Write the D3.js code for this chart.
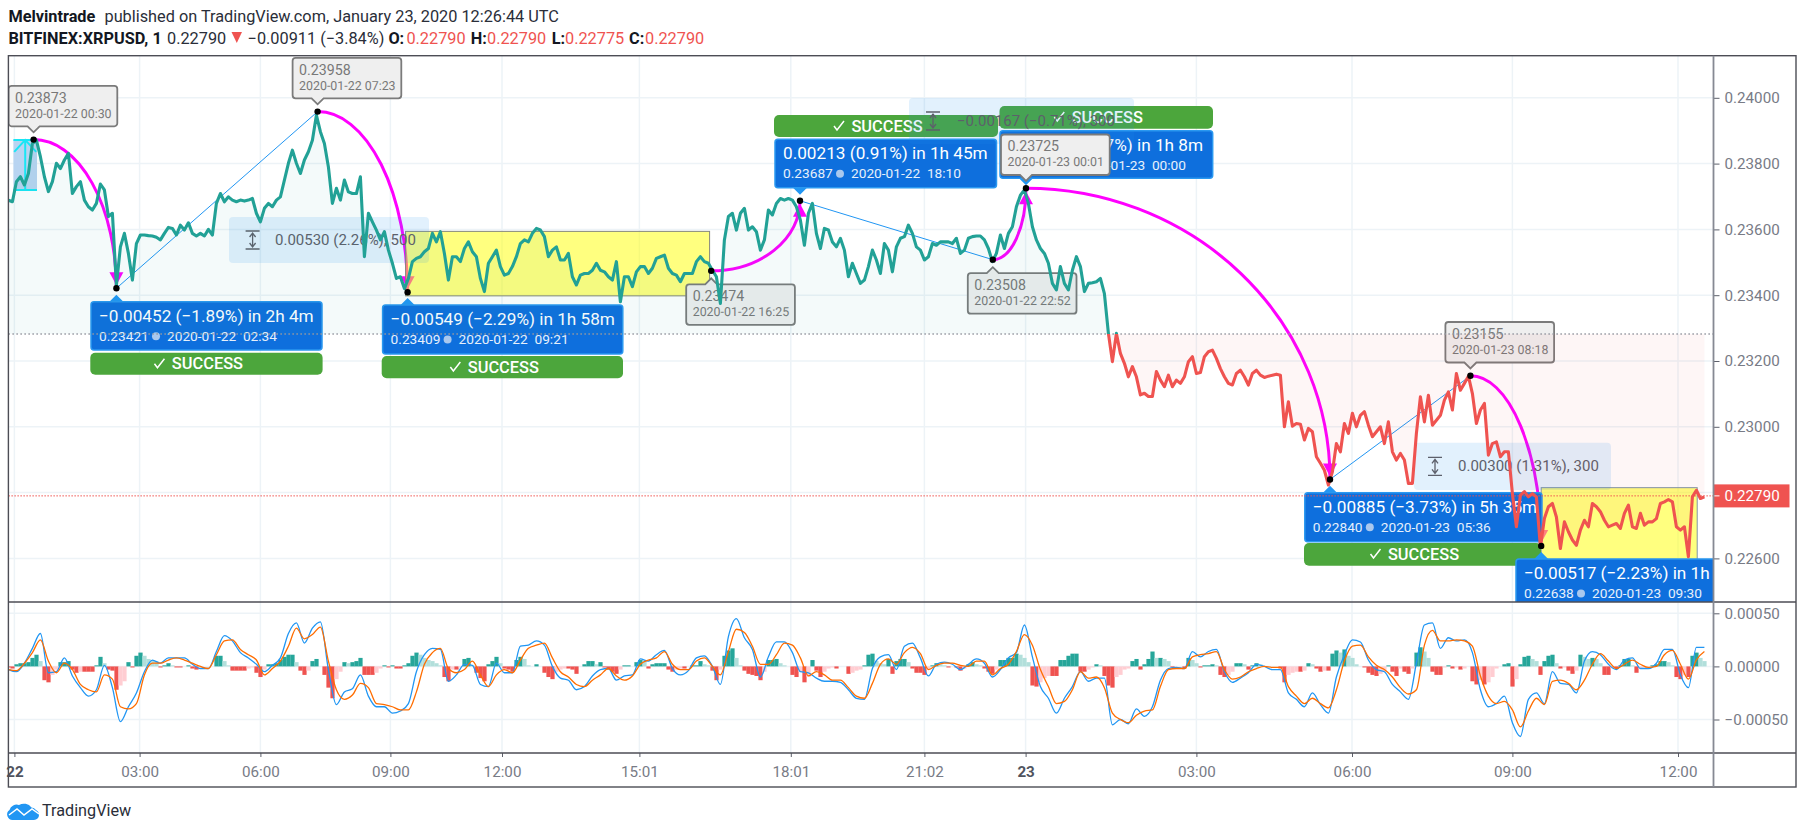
<!DOCTYPE html>
<html>
<head>
<meta charset="utf-8">
<style>
  html, body { margin: 0; padding: 0; background: #fff; }
  svg { display: block; }
  text { font-family: Roboto, sans-serif; }
</style>
<script src="https://cdn.jsdelivr.net/npm/d3@7"></script>
</head>
<body>
<div id="chart"></div>
<script>
// close price per bar, in 1e-5 USD
var closes = [
23689,23684,23745,23760,23735,23770,23861,23871,23821,23760,23715,23745,23801,23785,23811,23831,23709,23730,23745,23689,
23669,23659,23679,23738,23720,23639,23649,23430,23547,23588,23527,23446,23557,23583,23583,23581,23580,23576,23568,23588,
23606,23603,23583,23613,23598,23620,23588,23580,23588,23580,23600,23583,23679,23709,23684,23699,23689,23684,23689,23686,
23689,23694,23649,23623,23664,23679,23669,23689,23699,23750,23801,23841,23801,23770,23811,23836,23871,23947,23897,23861,
23790,23679,23725,23689,23750,23714,23709,23709,23760,23517,23649,23623,23598,23568,23593,23537,23497,23451,23456,23420,
23451,23502,23512,23517,23532,23542,23588,23562,23593,23527,23446,23517,23517,23502,23542,23562,23532,23517,23451,23411,
23497,23517,23537,23487,23461,23466,23487,23517,23557,23568,23562,23588,23603,23598,23578,23517,23537,23547,23507,23507,
23527,23456,23431,23461,23466,23466,23476,23497,23476,23471,23456,23446,23502,23380,23456,23456,23426,23471,23487,23487,
23466,23482,23512,23517,23522,23482,23466,23461,23441,23466,23466,23466,23502,23517,23502,23497,23476,23456,23375,23568,
23639,23649,23598,23649,23664,23598,23608,23593,23537,23568,23659,23644,23679,23694,23689,23694,23689,23669,23628,23552,
23649,23679,23588,23542,23603,23598,23562,23547,23573,23537,23456,23497,23466,23436,23446,23487,23537,23507,23466,23557,
23537,23471,23547,23573,23578,23613,23588,23547,23537,23507,23517,23557,23552,23562,23562,23562,23557,23573,23527,23537,
23573,23578,23580,23580,23568,23542,23502,23527,23583,23542,23588,23608,23669,23704,23720,23679,23608,23568,23542,23527,
23497,23436,23416,23487,23436,23416,23476,23517,23487,23411,23436,23438,23441,23451,23405,23284,23198,23284,23223,23193,
23152,23183,23152,23097,23102,23092,23092,23168,23142,23122,23157,23122,23142,23132,23152,23198,23213,23162,23165,23213,
23228,23233,23208,23177,23152,23132,23127,23162,23172,23152,23127,23162,23172,23157,23150,23154,23157,23160,23157,23000,
23076,23002,23010,23008,22960,22995,22985,22909,22889,22868,22823,22863,22949,22924,23010,22980,23041,23000,23035,23046,
23005,22970,22985,23000,22949,23015,22924,22899,22919,22899,22828,22828,22980,23091,23015,23096,23005,23020,23035,23081,
23106,23051,23162,23111,23132,23154,23101,23010,23051,23071,22914,22949,22954,22909,22924,22924,22797,22696,22792,22803,
22787,22797,22787,22635,22721,22757,22767,22726,22630,22711,22681,22656,22640,22686,22716,22696,22767,22757,22742,22716,
22696,22701,22706,22691,22737,22762,22696,22691,22737,22701,22711,22711,22721,22767,22772,22779,22772,22696,22686,22696,
22605,22787,22807,22782,22787
];
// MACD histogram per bar, in 1e-5
var macdHist = [
-1,-2,2,3,3,4,8,11,5,-13,-15,-8,-3,4,4,5,-3,-6,-5,-5,
-5,-5,1,9,3,-3,-4,-22,-18,-14,4,-1,10,13,10,7,6,5,-1,1,
3,1,-1,-1,0,1,-2,-3,-1,0,0,0,10,10,5,1,-4,-4,-4,-4,
-2,-1,-6,-10,-3,2,2,3,6,9,11,11,4,-4,-8,-4,5,7,0,-8,
-20,-30,-12,-5,4,3,4,5,8,-8,-8,-8,-6,-2,1,-1,1,-2,-2,1,
3,10,13,11,8,6,5,3,1,-10,-14,-3,-3,-1,7,8,1,-6,-11,-14,
2,5,9,3,-2,-3,-5,6,9,7,1,0,2,0,-6,-10,-12,-5,-3,-2,
-2,-3,-7,0,2,5,5,2,4,-1,-3,-5,-7,-3,1,1,0,4,6,5,
-2,2,3,3,3,-3,-5,-3,-2,-2,0,1,1,5,2,1,-4,-13,-3,10,
15,17,8,1,-4,-7,-8,-9,-13,-5,6,6,7,3,1,0,-8,-10,-5,-15,
-10,6,-4,-10,-5,-2,-1,-2,0,0,-7,-6,-4,-3,1,11,12,5,3,2,
7,-7,5,7,7,4,-2,-6,-6,-8,-3,1,3,2,1,-1,0,-1,-4,-2,
2,4,2,1,-2,-5,-7,-3,6,6,8,8,12,11,8,4,-18,-19,-15,-11,
-9,-9,-9,6,6,10,12,12,-5,-5,-3,-1,2,1,-9,-18,-20,-10,-8,-3,
-2,5,7,-3,2,7,14,8,8,7,5,-1,0,0,-2,8,6,3,-1,1,
1,2,1,-8,-10,-8,-5,3,3,2,-3,1,3,2,0,0,0,0,-2,-15,
-8,-6,-5,-5,-4,3,2,-2,-5,-4,-4,12,15,13,16,10,8,2,0,-1,
-6,-8,-9,-7,-5,1,-5,-9,-2,-5,-7,-2,13,18,14,8,-5,-8,-8,-1,
1,-2,-1,-3,-2,0,-14,-17,-13,-17,-15,-10,-2,0,2,3,-19,-12,2,9,
10,7,5,-8,5,10,11,3,-2,-1,-4,-7,-4,11,9,7,8,7,3,-8,
-8,-2,-2,1,7,7,1,-6,-2,-1,0,1,2,5,5,4,1,-10,-12,-8,
-10,10,13,8,5
];
// MACD and signal lines, one reading every 2 bars, in 1e-5
var macdLine = [
-3,-5,3,17,31,-6,-5,8,-9,-20,-28,-22,1,-20,-52,-38,-25,-5,6,3,
8,8,8,2,-2,-2,14,29,24,13,8,2,-5,1,8,31,41,22,36,42,
-3,-36,-24,-21,-8,-28,-38,-38,-44,-42,-35,-5,11,17,16,-14,-8,2,1,-17,
-19,3,-6,-6,19,20,24,20,0,-11,-13,-22,-19,-9,-3,-2,-13,-9,-8,7,
5,11,15,-2,-8,-4,8,10,0,-17,28,45,27,16,-10,9,23,23,13,-5,
-6,-11,-14,-14,-15,-22,-30,-31,-2,9,11,-3,19,22,8,-9,2,4,2,-3,
2,7,3,-10,-3,8,13,39,9,-19,-30,-44,-30,-19,-5,-14,-11,-11,-55,-50,
-54,-40,-47,-38,-13,-2,-1,-2,14,9,14,16,-5,-15,-11,-6,2,0,-3,-3,
-25,-31,-38,-25,-36,-44,-10,11,25,23,6,-3,-5,-17,-24,-31,3,39,41,17,
27,24,25,13,-22,-38,-35,-28,-53,-66,-31,-25,-35,-5,-16,-17,-25,5,14,11,
2,-3,6,8,-2,-2,3,16,16,-8,-20,18,18
];
var signalLine = [
-3,-4,3,13,25,5,-6,3,-3,-17,-22,-24,-8,-12,-38,-40,-35,-8,3,3,
6,8,6,3,0,-2,11,24,25,16,11,6,-8,-2,5,19,36,26,30,37,
5,-22,-31,-27,-16,-20,-35,-36,-38,-41,-41,-24,2,13,17,-2,-6,-3,5,-8,
-19,-8,-3,-6,6,17,20,22,8,-5,-10,-17,-19,-13,-8,-2,-9,-13,-9,2,
6,8,14,2,-3,-3,5,8,0,-8,14,35,32,19,2,2,11,22,20,8,
-9,-5,-8,-13,-13,-20,-28,-30,-16,2,7,2,13,18,12,-3,1,3,3,1,
0,5,5,-8,-2,2,14,30,20,-3,-19,-35,-33,-22,-5,-11,-10,-20,-44,-50,
-53,-46,-42,-41,-19,-3,-2,-2,9,11,12,14,-3,-12,-10,-5,-2,0,-1,-1,
-19,-28,-35,-30,-35,-39,-22,5,19,20,9,1,-3,-10,-20,-26,-22,20,34,24,
24,25,24,19,-9,-28,-35,-33,-41,-57,-42,-30,-36,-14,-13,-16,-22,-13,2,12,
5,-2,2,6,2,-1,0,11,15,2,-12,6,14
];

var priceTicks = [0.240, 0.238, 0.236, 0.234, 0.232, 0.230, 0.228, 0.226];
var macdTicks = [0.0005, 0, -0.0005];
var timeBars = [1.5, 32.8, 63, 95.5, 123.4, 157.75, 195.6, 229, 254.3, 297, 335.9, 376, 417.4];
var timeLabels = ["22", "03:00", "06:00", "09:00", "12:00", "15:01", "18:01", "21:02", "23", "03:00", "06:00", "09:00", "12:00"];
var baseValue = 0.23282;
var lastPrice = 0.22790;

// swing points of the drawings, a to k in time order
var swingBars = [6.3, 27, 77.3, 99.8, 175.7, 197.9, 246.1, 254.4, 330.4, 365.5, 383.2];
var swingPrices = [0.23873, 0.23421, 0.23958, 0.23409, 0.23474, 0.23687, 0.23508, 0.23725, 0.22840, 0.23155, 0.22638];
var swingDates = ["2020-01-22 00:30", "2020-01-22 02:34", "2020-01-22 07:23", "2020-01-22 09:21", "2020-01-22 16:25", "2020-01-22 18:10",
                  "2020-01-22 22:52", "2020-01-23 00:01", "2020-01-23 05:36", "2020-01-23 08:18", "2020-01-23 09:30"];
var arcs = [[0, 1], [2, 3], [4, 5], [6, 7], [7, 8], [9, 10]];
var links = [[1, 2], [5, 6], [8, 9]];

var calloutSwings = [0, 2, 4, 6, 7, 9];
var calloutBelow = [4, 6];
var targetSwings = [1, 3, 5, 7, 8, 10];
var targetTitles = ["\u22120.00452 (\u22121.89%) in 2h 4m", "\u22120.00549 (\u22122.29%) in 1h 58m", "0.00213 (0.91%) in 1h 45m",
                    "0.00217 (0.97%) in 1h 8m", "\u22120.00885 (\u22123.73%) in 5h 35m", "\u22120.00517 (\u22122.23%) in 1h 12m"];
var targetPrices = ["0.23421", "0.23409", "0.23687", "0.23725", "0.22840", "0.22638"];
var targetStamps = ["2020-01-22\u00a0\u00a002:34", "2020-01-22\u00a0\u00a009:21", "2020-01-22\u00a0\u00a018:10",
                    "2020-01-23\u00a0\u00a000:00", "2020-01-23\u00a0\u00a005:36", "2020-01-23\u00a0\u00a009:30"];

var measureTexts = ["0.00530 (2.26%), 500", "\u22120.00167 (\u22120.71%), 300", "0.00300 (1.31%), 300"];

// page layout, not data
var pane = {left: 8.4, right: 1713.5, outer: 1796, top: 55.7, split: 602, bottom: 753, foot: 787};
var targetBoxes = [
  {l: 91, r: 322, t: 301.7, b: 350, gl: 90.3, gr: 322.6, gt: 352.7, gb: 374.7},
  {l: 382.6, r: 622.8, t: 305, b: 354, gl: 381.7, gr: 623, gt: 356, gb: 378.3},
  {l: 775, r: 996.5, t: 139.3, b: 187.7, gl: 774, gr: 998, gt: 115, gb: 137},
  {l: 1000, r: 1212.7, t: 130.7, b: 178.3, gl: 999.5, gr: 1213, gt: 106, gb: 128.7},
  {l: 1304.8, r: 1542, t: 492.7, b: 541.7, gl: 1304, gr: 1541, gt: 543, gb: 565.7},
  {l: 1516, r: 1760, t: 559, b: 610}
];
var measureBoxes = [
  {l: 229, r: 429, t: 217, b: 263, icon: 252.6, text: 275},
  {l: 909, r: 1134, t: 98, b: 144, icon: 933, text: 957},
  {l: 1414, r: 1611, t: 442.7, b: 490, icon: 1435, text: 1458}
];

var width = 1804, height = 834;
var axisGray = "#787b86", ink = "#131722", red = "#ef5350", teal = "#22a196";

var svg = d3.select("#chart").append("svg").attr("width", width).attr("height", height);
var defs = svg.append("defs");

var x = d3.scaleLinear().domain([0, 424]).range([8.4, 1704.4]);
var y = d3.scaleLinear().domain([0.240, 0.226]).range([97.8, 558.4]);
var macdY = d3.scaleLinear().domain([0.0005, -0.0005]).range([613.3, 719.5]);

function clipRect(id, x0, y0, x1, y1) {
  defs.append("clipPath").attr("id", id).append("rect")
    .attr("x", x0).attr("y", y0).attr("width", x1 - x0).attr("height", y1 - y0);
}
clipRect("paneClip", pane.left, pane.top, pane.right, pane.split);
clipRect("aboveBase", pane.left, pane.top, pane.right, y(baseValue));
clipRect("belowBase", pane.left, y(baseValue), pane.right, pane.split);
clipRect("macdClip", pane.left, pane.split, pane.right, pane.bottom);

// grid
var grid = svg.append("g").attr("stroke", "#edf3f7").attr("stroke-width", 1.5);
grid.selectAll(".v").data(timeBars).enter().append("line")
  .attr("x1", function(d){ return x(d); }).attr("x2", function(d){ return x(d); })
  .attr("y1", pane.top).attr("y2", pane.bottom);
grid.selectAll(".h").data(priceTicks).enter().append("line")
  .attr("x1", pane.left).attr("x2", pane.right)
  .attr("y1", function(d){ return y(d); }).attr("y2", function(d){ return y(d); });
grid.selectAll(".m").data(macdTicks).enter().append("line")
  .attr("x1", pane.left).attr("x2", pane.right)
  .attr("y1", function(d){ return macdY(d); }).attr("y2", function(d){ return macdY(d); });

// drawings sit under the price line
var draw = svg.append("g").attr("clip-path", "url(#paneClip)");

// cyan long position box at the start
draw.append("rect").attr("x", x(1.25)).attr("width", x(7.15) - x(1.25))
  .attr("y", y(0.23872)).attr("height", y(0.23720) - y(0.23872)).attr("fill", "#b8d4f1");
draw.selectAll(".cy").data([0.23872, 0.23720]).enter().append("line")
  .attr("x1", x(1.25)).attr("x2", x(7.15))
  .attr("y1", function(d){ return y(d); }).attr("y2", function(d){ return y(d); })
  .attr("stroke", "#19e6f5").attr("stroke-width", 2);
draw.append("path")
  .attr("d", "M" + x(4.2) + "," + y(0.23720) + "V" + y(0.23872) + "M" + (x(4.2) - 11) + "," + (y(0.23872) + 12) + "L" + x(4.2) + "," + y(0.23872) + "L" + (x(4.2) + 11) + "," + (y(0.23872) + 12))
  .attr("fill", "none").attr("stroke", "#19e6f5").attr("stroke-width", 2);

// thin trend lines
draw.selectAll(".link").data(links).enter().append("line")
  .attr("x1", function(d){ return x(swingBars[d[0]]); }).attr("y1", function(d){ return y(swingPrices[d[0]]); })
  .attr("x2", function(d){ return x(swingBars[d[1]]); }).attr("y2", function(d){ return y(swingPrices[d[1]]); })
  .attr("stroke", "#2196f3").attr("stroke-width", 1);

// magenta arcs, a quarter ellipse from swing to swing
draw.selectAll(".arc").data(arcs).enter().append("path")
  .attr("d", function(d){
    var x0 = x(swingBars[d[0]]), y0 = y(swingPrices[d[0]]), x1 = x(swingBars[d[1]]), y1 = y(swingPrices[d[1]]);
    return "M" + x0 + "," + y0 + "A" + (x1 - x0) + "," + Math.abs(y1 - y0) + " 0 0 " + (y1 > y0 ? 1 : 0) + " " + x1 + "," + y1;
  })
  .attr("fill", "none").attr("stroke", "#ff00ff").attr("stroke-width", 3);
draw.selectAll(".head").data(arcs).enter().append("path")
  .attr("d", function(d){
    var x1 = x(swingBars[d[1]]), y1 = y(swingPrices[d[1]]), up = swingPrices[d[1]] > swingPrices[d[0]] ? 1 : -1;
    return "M" + x1 + "," + (y1 + up * 3) + "l-7," + (up * 13) + "h14z";
  })
  .attr("fill", "#ff00ff");

// yellow boxes go over the arc ends and tint them
function yellowBox(b0, b1, p0, p1, edge) {
  draw.append("rect").attr("x", x(b0)).attr("width", x(b1) - x(b0))
    .attr("y", y(p0)).attr("height", y(p1) - y(p0))
    .attr("fill", "#ffff00").attr("fill-opacity", 0.5).attr("stroke", edge).attr("stroke-width", 1);
}
yellowBox(99.3, 175.3, 0.23594, 0.23398, "#85877c");
yellowBox(383.2, 422.2, 0.22815, 0.22597, "#7f95a8");

// target labels: blue price box and the green SUCCESS bar
var targets = draw.selectAll(".target").data(targetSwings).enter().append("g");
targets.append("path")
  .attr("d", function(d, i){
    var b = targetBoxes[i], ax = x(swingBars[d]), ay = y(swingPrices[d]);
    var edge = ay < b.t ? b.t : b.b, dir = ay < b.t ? -1 : 1;
    return "M" + (ax - 7) + "," + edge + "L" + ax + "," + (edge + dir * 7) + "L" + (ax + 7) + "," + edge + "z";
  })
  .attr("fill", "#2196f3");
targets.append("rect")
  .attr("x", function(d, i){ return targetBoxes[i].l; }).attr("y", function(d, i){ return targetBoxes[i].t; })
  .attr("width", function(d, i){ return targetBoxes[i].r - targetBoxes[i].l; })
  .attr("height", function(d, i){ return targetBoxes[i].b - targetBoxes[i].t; })
  .attr("rx", 3).attr("fill", "#0e6fdd").attr("stroke", "#2a98f0").attr("stroke-width", 1.5);
targets.append("text")
  .attr("x", function(d, i){ return targetBoxes[i].l + 8; }).attr("y", function(d, i){ return targetBoxes[i].t + 20; })
  .attr("fill", "#fff").attr("font-size", 17.2)
  .text(function(d, i){ return targetTitles[i]; });
targets.append("text")
  .attr("x", function(d, i){ return targetBoxes[i].l + 8; }).attr("y", function(d, i){ return targetBoxes[i].t + 39; })
  .attr("fill", "#e6f0fb").attr("font-size", 13.7)
  .text(function(d, i){ return targetPrices[i]; });
targets.append("circle")
  .attr("cx", function(d, i){ return targetBoxes[i].l + 65; }).attr("cy", function(d, i){ return targetBoxes[i].t + 34.5; })
  .attr("r", 4).attr("fill", "#a9c8ee");
targets.append("text")
  .attr("x", function(d, i){ return targetBoxes[i].l + 76; }).attr("y", function(d, i){ return targetBoxes[i].t + 39; })
  .attr("fill", "#e6f0fb").attr("font-size", 13.7)
  .text(function(d, i){ return targetStamps[i]; });

var wins = targets.filter(function(d, i){ return targetBoxes[i].gl !== undefined; });
wins.append("rect")
  .attr("x", function(d){ return targetBoxes[targetSwings.indexOf(d)].gl; })
  .attr("y", function(d){ return targetBoxes[targetSwings.indexOf(d)].gt; })
  .attr("width", function(d){ var b = targetBoxes[targetSwings.indexOf(d)]; return b.gr - b.gl; })
  .attr("height", function(d){ var b = targetBoxes[targetSwings.indexOf(d)]; return b.gb - b.gt; })
  .attr("rx", 5).attr("fill", "#4ca63c");
wins.append("text")
  .attr("x", function(d){ var b = targetBoxes[targetSwings.indexOf(d)]; return (b.gl + b.gr) / 2 + 1; })
  .attr("y", function(d){ return targetBoxes[targetSwings.indexOf(d)].gt + 16.5; })
  .attr("text-anchor", "middle").attr("fill", "#fff").attr("font-size", 16.4).attr("font-weight", 500)
  .text("SUCCESS");
wins.append("path")
  .attr("d", function(d){
    var b = targetBoxes[targetSwings.indexOf(d)], cx = (b.gl + b.gr) / 2 - 47, cy = b.gt + 11;
    return "M" + (cx - 5) + "," + cy + "l3,4l7,-9";
  })
  .attr("fill", "none").attr("stroke", "#fff").attr("stroke-width", 1.5);

// measure boxes
var measures = draw.selectAll(".measure").data(measureTexts).enter().append("g");
measures.append("rect")
  .attr("x", function(d, i){ return measureBoxes[i].l; }).attr("y", function(d, i){ return measureBoxes[i].t; })
  .attr("width", function(d, i){ return measureBoxes[i].r - measureBoxes[i].l; })
  .attr("height", function(d, i){ return measureBoxes[i].b - measureBoxes[i].t; })
  .attr("rx", 4).attr("fill", "#2196f3").attr("fill-opacity", 0.13);
measures.append("path")
  .attr("d", function(d, i){
    var b = measureBoxes[i], cy = (b.t + b.b) / 2, ix = b.icon;
    return "M" + (ix - 7) + "," + (cy - 9) + "h14M" + (ix - 7) + "," + (cy + 9) + "h14M" + ix + "," + (cy - 7) + "v14" +
           "M" + (ix - 3) + "," + (cy - 3) + "l3,-4l3,4M" + (ix - 3) + "," + (cy + 3) + "l3,4l3,-4";
  })
  .attr("fill", "none").attr("stroke", "#5d606b").attr("stroke-width", 1.3);
measures.append("text")
  .attr("x", function(d, i){ return measureBoxes[i].text; })
  .attr("y", function(d, i){ return (measureBoxes[i].t + measureBoxes[i].b) / 2 + 5; })
  .attr("fill", "#5d606b").attr("font-size", 15)
  .text(function(d){ return d; });

// grey price callouts
var callouts = draw.selectAll(".callout").data(calloutSwings).enter().append("g");
function calloutTop(d) {
  var ay = y(swingPrices[d]);
  return calloutBelow.indexOf(d) >= 0 ? ay + 13.5 : ay - 13.3 - 40.5;
}
callouts.append("path")
  .attr("d", function(d){
    var ax = x(swingBars[d]), l = ax - 25, w = 108.7, t = calloutTop(d), h = 40.5, r = 3;
    var p = d3.path();
    p.moveTo(l + r, t);
    if (calloutBelow.indexOf(d) >= 0) { p.lineTo(ax - 6, t); p.lineTo(ax, t - 6); p.lineTo(ax + 6, t); }
    p.lineTo(l + w - r, t); p.arcTo(l + w, t, l + w, t + r, r);
    p.lineTo(l + w, t + h - r); p.arcTo(l + w, t + h, l + w - r, t + h, r);
    if (calloutBelow.indexOf(d) < 0) { p.lineTo(ax + 6, t + h); p.lineTo(ax, t + h + 6); p.lineTo(ax - 6, t + h); }
    p.lineTo(l + r, t + h); p.arcTo(l, t + h, l, t + h - r, r);
    p.lineTo(l, t + r); p.arcTo(l, t, l + r, t, r);
    p.closePath();
    return p.toString();
  })
  .attr("fill", "#efefef").attr("stroke", "#7b7b7b").attr("stroke-width", 1.8);
callouts.append("text")
  .attr("x", function(d){ return x(swingBars[d]) - 18.5; }).attr("y", function(d){ return calloutTop(d) + 17; })
  .attr("fill", "#787878").attr("font-size", 14.2)
  .text(function(d){ return d3.format(".5f")(swingPrices[d]); });
callouts.append("text")
  .attr("x", function(d){ return x(swingBars[d]) - 18.5; }).attr("y", function(d){ return calloutTop(d) + 32; })
  .attr("fill", "#787878").attr("font-size", 12.4).attr("text-rendering", "geometricPrecision")
  .text(function(d){ return swingDates[d]; });

// baseline area and price line
var barX = function(d, i){ return x(i); };
var priceY = function(d){ return y(d / 1e5); };
var area = d3.area().x(barX).y0(y(baseValue)).y1(priceY);
var line = d3.line().x(barX).y(priceY);

svg.append("path").datum(closes).attr("d", area).attr("clip-path", "url(#aboveBase)")
  .attr("fill", "#26a69a").attr("fill-opacity", 0.05);
svg.append("path").datum(closes).attr("d", area).attr("clip-path", "url(#belowBase)")
  .attr("fill", red).attr("fill-opacity", 0.05);

svg.append("line").attr("x1", pane.left).attr("x2", pane.right).attr("y1", y(baseValue)).attr("y2", y(baseValue))
  .attr("stroke", "#9598a1").attr("stroke-width", 1.3).attr("stroke-dasharray", "1.5 2.5");
svg.append("line").attr("x1", pane.left).attr("x2", pane.right).attr("y1", y(lastPrice)).attr("y2", y(lastPrice))
  .attr("stroke", red).attr("stroke-width", 1).attr("stroke-dasharray", "1.5 1.5");

svg.append("path").datum(closes).attr("d", line).attr("clip-path", "url(#aboveBase)")
  .attr("fill", "none").attr("stroke", teal).attr("stroke-width", 3.1).attr("stroke-linejoin", "round");
svg.append("path").datum(closes).attr("d", line).attr("clip-path", "url(#belowBase)")
  .attr("fill", "none").attr("stroke", red).attr("stroke-width", 3.1).attr("stroke-linejoin", "round");

svg.selectAll(".dot").data(swingBars).enter().append("circle")
  .attr("cx", function(d){ return x(d); })
  .attr("cy", function(d, i){ return y(swingPrices[i]); })
  .attr("r", 3.2).attr("fill", "#000");

// MACD pane
var macd = svg.append("g").attr("clip-path", "url(#macdClip)");
macd.selectAll(".bar").data(macdHist).enter().append("rect")
  .attr("x", function(d, i){ return x(i) - 2; })
  .attr("width", 4.2)
  .attr("y", function(d){ return macdY(Math.max(d, 0) / 1e5); })
  .attr("height", function(d){ return Math.abs(macdY(d / 1e5) - macdY(0)); })
  .attr("fill", function(d, i){
    var prev = i > 0 ? macdHist[i - 1] : 0;
    if (d >= 0) return d >= prev ? "#26a69a" : "#b2dfdb";
    return d <= prev ? "#ef5350" : "#ffcdd2";
  });
var macdPath = d3.line().curve(d3.curveMonotoneX).x(function(d, i){ return x(i * 2); }).y(function(d){ return macdY(d / 1e5); });
macd.append("path").datum(macdLine).attr("d", macdPath)
  .attr("fill", "none").attr("stroke", "#2196f3").attr("stroke-width", 1.3);
macd.append("path").datum(signalLine).attr("d", macdPath)
  .attr("fill", "none").attr("stroke", "#ff6d00").attr("stroke-width", 1.3);

// axes
function styleAxis(g) {
  g.select(".domain").remove();
  g.selectAll("line").attr("stroke", "#5d606b");
  g.selectAll("text").attr("fill", axisGray).attr("font-size", 15.2).attr("font-family", "Roboto, sans-serif");
}
svg.append("g").attr("transform", "translate(" + pane.right + ",0)")
  .call(d3.axisRight(y).tickValues(priceTicks).tickFormat(d3.format(".5f")).tickSize(6).tickPadding(5))
  .call(styleAxis);
svg.append("g").attr("transform", "translate(" + pane.right + ",0)")
  .call(d3.axisRight(macdY).tickValues(macdTicks).tickFormat(d3.format(".5f")).tickSize(6).tickPadding(5))
  .call(styleAxis);
svg.append("g").attr("transform", "translate(0," + pane.bottom + ")")
  .call(d3.axisBottom(x).tickValues(timeBars).tickFormat(function(d, i){ return timeLabels[i]; }).tickSize(4).tickPadding(9))
  .call(styleAxis)
  .selectAll("text")
  .attr("font-weight", function(d, i){ return timeLabels[i].length < 3 ? 700 : 400; })
  .attr("fill", function(d, i){ return timeLabels[i].length < 3 ? "#50535e" : axisGray; });

// last price tag
svg.append("rect").attr("x", pane.right).attr("width", 76).attr("y", y(lastPrice) - 11.5).attr("height", 23)
  .attr("fill", red);
svg.append("line").attr("x1", pane.right).attr("x2", pane.right + 6).attr("y1", y(lastPrice)).attr("y2", y(lastPrice)).attr("stroke", "#fff");
svg.append("text").attr("x", pane.right + 11).attr("y", y(lastPrice) + 5).attr("fill", "#fff").attr("font-size", 15.2)
  .text(d3.format(".5f")(lastPrice));

// frame
var frame = svg.append("g").attr("stroke", "#4c4d55").attr("stroke-width", 1.4).attr("fill", "none");
frame.append("rect").attr("x", pane.left).attr("y", pane.top).attr("width", pane.outer - pane.left).attr("height", pane.foot - pane.top);
frame.append("line").attr("x1", pane.left).attr("x2", pane.outer).attr("y1", pane.split).attr("y2", pane.split);
frame.append("line").attr("x1", pane.left).attr("x2", pane.outer).attr("y1", pane.bottom).attr("y2", pane.bottom);
svg.append("line").attr("x1", pane.right).attr("x2", pane.right).attr("y1", pane.top).attr("y2", pane.foot)
  .attr("stroke", "#868993").attr("stroke-width", 1.8);

// header
function headerText(tx, ty, str, fill, weight) {
  svg.append("text").attr("x", tx).attr("y", ty).attr("fill", fill).attr("font-size", 16.3)
    .attr("font-weight", weight || 400).text(str);
}
headerText(8.4, 21.7, "Melvintrade", ink, 700);
headerText(104.5, 21.7, "published on TradingView.com, January 23, 2020 12:26:44 UTC", "#2a2e39");
headerText(8.4, 43.5, "BITFINEX:XRPUSD, 1", ink, 700);
headerText(167, 43.5, "0.22790", "#2a2e39");
svg.append("path").attr("d", "M231.5,32h10.5l-5.2,11z").attr("fill", red);
headerText(247.6, 43.5, "\u22120.00911 (\u22123.84%)", "#2a2e39");
headerText(388.4, 43.5, "O:", ink, 700);
headerText(406.4, 43.5, "0.22790", red);
headerText(470.7, 43.5, "H:", ink, 700);
headerText(487, 43.5, "0.22790", red);
headerText(551.8, 43.5, "L:", ink, 700);
headerText(565, 43.5, "0.22775", red);
headerText(629, 43.5, "C:", ink, 700);
headerText(645, 43.5, "0.22790", red);

// TradingView logo
svg.append("path")
  .attr("d", "M13,820a5.5,5.5 0 0 1 -3.5,-10a7.5,7.5 0 0 1 9.5,-5a9.5,9.5 0 0 1 12.5,2.5a6,6 0 0 1 4.5,2.5a5.5,5.5 0 0 1 3,5a5,5 0 0 1 -5,5z")
  .attr("fill", "#2196f3");
svg.append("path").attr("d", "M9,815l8,-6l7,6l8,-6l7,5").attr("fill", "none").attr("stroke", "#fff").attr("stroke-width", 1.5);
svg.append("text").attr("x", 42).attr("y", 816).attr("fill", "#2a2e39").attr("font-size", 16.2).text("TradingView");
</script>
</body>
</html>
